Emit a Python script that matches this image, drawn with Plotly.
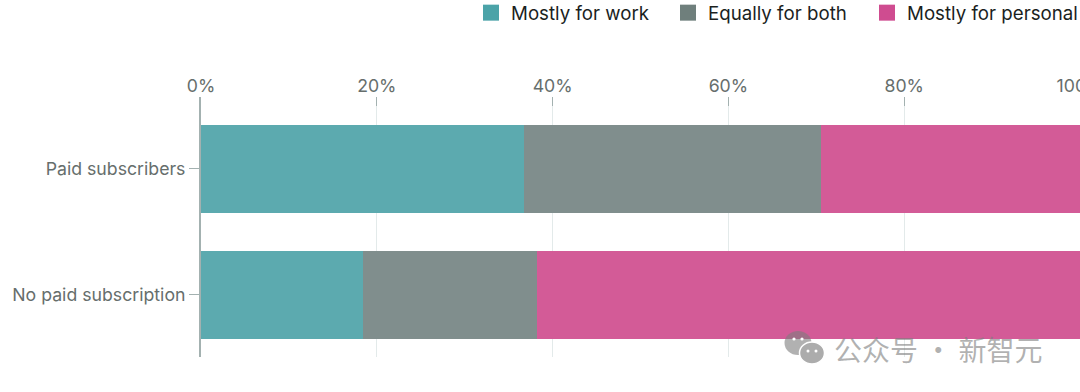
import plotly.graph_objects as go

categories = ["Paid subscribers", "No paid subscription"]
series_names = ["Mostly for work", "Equally for both", "Mostly for personal"]
mostly_work = [36.8, 18.4]
equally_both = [33.7, 19.8]
mostly_personal = [29.5, 61.8]
bar_colors = ["#5CAAAF", "#808E8D", "#D35B97"]
legend_colors = ["#4BA3A8", "#6F7F7C", "#CF4C90"]
x_ticks = [0, 20, 40, 60, 80, 100]
x_labels = ["0%", "20%", "40%", "60%", "80%", "100%"]

W, H = 1080, 392
L, T, B = 201, 97, 357
FONT = "Inter, Roboto, sans-serif"

fig = go.Figure()
for name, vals, c in zip(series_names, [mostly_work, equally_both, mostly_personal], bar_colors):
    fig.add_trace(go.Bar(y=categories, x=vals, name=name, orientation="h",
                         marker=dict(color=c, line=dict(width=0)), showlegend=False))
legend_ids = ["legend", "legend2", "legend3"]
for name, c, lid in zip(series_names, legend_colors, legend_ids):
    fig.add_trace(go.Scatter(x=[None], y=[None], name=name, mode="markers", legend=lid,
                             marker=dict(symbol="square", size=16, color=c)))

def px(x): return (x - L) / (W - L)
def py(y): return 1 - (y - T) / (B - T)

wm = "rgba(125,125,125,0.6)"
shapes = []
def circ(cx, cy, rx, ry, fill, line=None):
    shapes.append(dict(type="circle", xref="paper", yref="paper", layer="above",
                       x0=px(cx - rx), x1=px(cx + rx), y0=py(cy + ry), y1=py(cy - ry),
                       fillcolor=fill, line=line or dict(width=0)))
circ(798, 343, 13.5, 12, wm)
circ(812, 353, 12.5, 11, "rgb(172,172,172)", dict(width=1.5, color="white"))
for cx, cy in [(794, 339), (802, 339)]:
    circ(cx, cy, 1.6, 1.6, "white")
for cx, cy in [(808, 351), (816, 351)]:
    circ(cx, cy, 1.5, 1.5, "white")

def legend_at(left):
    return dict(orientation="h", xref="container", yref="container",
                x=left / W, xanchor="left", y=1 - 13 / H, yanchor="middle",
                font=dict(size=18.7, color="#1B1F1E"), bgcolor="rgba(0,0,0,0)",
                itemsizing="trace")

fig.update_layout(
    width=W, height=H, barmode="stack", bargap=0.302,
    margin=dict(l=L, r=0, t=T, b=H - B, autoexpand=False),
    paper_bgcolor="white", plot_bgcolor="white",
    font=dict(family=FONT, size=17.7, color="#666E6C"),
    xaxis=dict(side="top", range=[0, 100], tickvals=x_ticks, ticktext=x_labels,
               ticks="inside", ticklen=9, tickwidth=1, tickcolor="#A3B1B0",
               showgrid=True, gridcolor="#E3EAEA", gridwidth=1, zeroline=False,
               tickfont=dict(size=17.7, color="#666E6C"), ticklabelstandoff=0,
               ticklabeloverflow="allow"),
    yaxis=dict(range=[1.492, -0.571], ticks="outside", ticklen=10, tickwidth=1,
               tickcolor="#A3B1B0", showline=True, linecolor="#A3B1B0", linewidth=2,
               showgrid=False, zeroline=False, tickfont=dict(size=17.7, color="#666E6C"),
               categoryorder="array", categoryarray=categories),
    legend=legend_at(471), legend2=legend_at(668), legend3=legend_at(867),
    annotations=[dict(text="公众号 · 新智元", xref="paper", yref="paper",
                      x=px(832), y=py(349), xanchor="left", yanchor="middle", showarrow=False,
                      font=dict(family="Noto Sans CJK SC", size=28, color=wm))],
    shapes=shapes,
)
fig.write_html("out.html", config=dict(displayModeBar=False),
               post_script="document.body.style.margin='0';document.body.style.overflow='hidden';")
